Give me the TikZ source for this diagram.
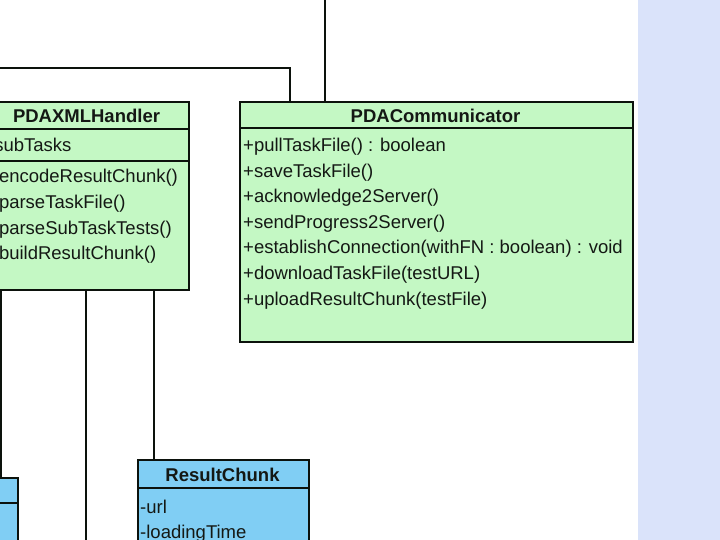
\documentclass[tikz,border=0pt]{standalone}
\usepackage{fontspec}
\setmainfont{Liberation Sans}
\usetikzlibrary{calc}

\definecolor{classgreen}{RGB}{196,248,196}
\definecolor{classblue}{RGB}{128,206,244}
\definecolor{panelblue}{RGB}{218,227,250}
\definecolor{boxline}{RGB}{12,18,12}
\definecolor{textdark}{RGB}{20,24,20}

\begin{document}
\begin{tikzpicture}[x=1pt, y=-1pt, font=\fontsize{18.5}{22}\selectfont, text=textdark]

    % --- Cadre ---
    \useasboundingbox (0,0) rectangle (720,540);
    \clip (0,0) rectangle (720,540);
    \fill[panelblue] (637.5,0) rectangle (720,540);

    % --- Styles ---
    \tikzstyle{classbox} = [draw=boxline, line width=2.4pt, inner sep=0pt, anchor=north west]
    \tikzstyle{sep} = [draw=boxline, line width=1.6pt]
    \tikzstyle{link} = [draw=boxline, line width=2pt]
    \tikzstyle{title} = [font=\fontsize{18.5}{22}\selectfont\bfseries, anchor=base, inner sep=0pt]
    \tikzstyle{row} = [anchor=base west, inner sep=0pt]

    % --- PDAXMLHandler ---
    \node[classbox, fill=classgreen, minimum width=203pt, minimum height=188pt] (handler) at (-15,101) {};
    \draw[sep] ([yshift=-28pt]handler.north west) -- ([yshift=-28pt]handler.north east);
    \draw[sep] ([yshift=-60pt]handler.north west) -- ([yshift=-60pt]handler.north east);
    \node[title] (handler-title) at (86.5,123) {PDAXMLHandler};
    \node[row] (handler-a1) at (-12,152) {-subTasks};
    \node[row] (handler-m1) at (-12,183) {+encodeResultChunk()};
    \node[row] (handler-m2) at (-12,208.5) {+parseTaskFile()};
    \node[row] (handler-m3) at (-12,234) {+parseSubTaskTests()};
    \node[row] (handler-m4) at (-12,259.5) {+buildResultChunk()};

    % --- PDACommunicator ---
    \node[classbox, fill=classgreen, minimum width=393pt, minimum height=240pt] (comm) at (239,101) {};
    \draw[sep] ([yshift=-27pt]comm.north west) -- ([yshift=-27pt]comm.north east);
    \node[title] (comm-title) at (435.5,123) {PDACommunicator};
    \node[row] (comm-m1) at (243,152) {+pullTaskFile() : boolean};
    \node[row] (comm-m2) at (243,177.5) {+saveTaskFile()};
    \node[row] (comm-m3) at (243,203) {+acknowledge2Server()};
    \node[row] (comm-m4) at (243,228.5) {+sendProgress2Server()};
    \node[row] (comm-m5) at (243,254) {+establishConnection(withFN : boolean) : void};
    \node[row] (comm-m6) at (243,279.5) {+downloadTaskFile(testURL)};
    \node[row] (comm-m7) at (243,305) {+uploadResultChunk(testFile)};

    % --- Classes bleues ---
    \node[classbox, fill=classblue, minimum width=137pt, minimum height=90pt] (leftchunk) at (-120,477) {};
    \draw[sep] ([yshift=-26pt]leftchunk.north west) -- ([yshift=-26pt]leftchunk.north east);

    \node[classbox, fill=classblue, minimum width=171pt, minimum height=100pt] (result) at (137,459) {};
    \draw[sep] ([yshift=-29pt]result.north west) -- ([yshift=-29pt]result.north east);
    \node[title] (result-title) at (222.5,481) {ResultChunk};
    \node[row] (result-a1) at (140,513) {-url};
    \node[row] (result-a2) at (140,538.5) {-loadingTime};

    % --- Liens ---
    \coordinate (offleft) at (-5,68);
    \coordinate (offtop) at (325,-5);
    \coordinate (offbottom) at (86,545);

    \draw[link] (offleft) -| ([xshift=51pt]comm.north west);
    \draw[link] (offtop) -- (offtop |- comm.north);
    \draw[link] ([xshift=16pt]handler.south west) -- ([xshift=16pt]handler.south west |- leftchunk.north);
    \draw[link] ([xshift=101pt]handler.south west) -- (offbottom);
    \draw[link] ([xshift=169pt]handler.south west) -- ([xshift=169pt]handler.south west |- result.north);

\end{tikzpicture}
\end{document}
